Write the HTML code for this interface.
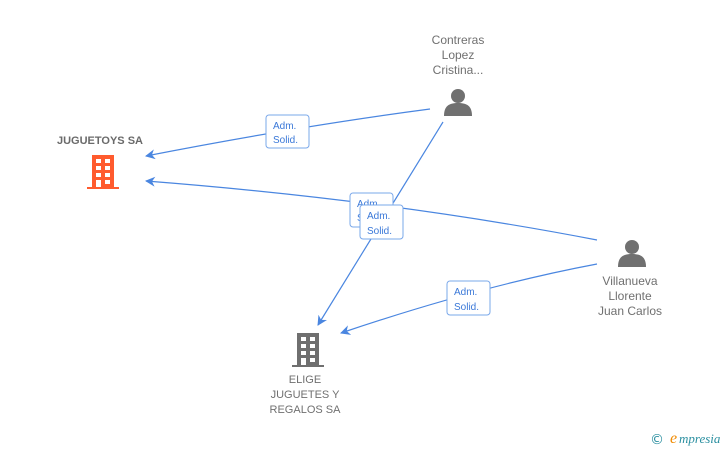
<!DOCTYPE html>
<html><head><meta charset="utf-8"><style>
body{margin:0;width:728px;height:450px;background:#fff;overflow:hidden;font-family:"Liberation Sans",sans-serif;}
.t{position:absolute;font-size:12px;color:#707070;text-align:center;line-height:15px;}
</style></head><body>
<svg width="728" height="450" style="position:absolute;left:0;top:0">
<defs>
<marker id="a" markerWidth="10" markerHeight="10" refX="9" refY="5" orient="auto" markerUnits="userSpaceOnUse">
<path d="M0,0 L10,5 L0,10 L3,5 Z" fill="#4a86e0"/></marker>
<g id="bld"><rect x="5" y="0" width="22" height="32"/><rect x="0" y="32" width="32" height="2"/></g>
<g id="win" fill="#fff"><rect x="9" y="4" width="5" height="4"/><rect x="18" y="4" width="5" height="4"/><rect x="9" y="11" width="5" height="4"/><rect x="18" y="11" width="5" height="4"/><rect x="9" y="18" width="5" height="4"/><rect x="18" y="18" width="5" height="4"/><rect x="9" y="25" width="5" height="7"/><rect x="18" y="25" width="5" height="4"/></g>
<g id="per"><circle cx="14" cy="8" r="7"/><path d="M0,28 C0,18 5,15 14,15 C23,15 28,18 28,28 Z"/></g>
</defs>
<g stroke="#4a86e0" stroke-width="1.2" fill="none">
<path d="M430,109 Q300,126 146,156" marker-end="url(#a)"/>
<path d="M597,240 Q390,200 146,181" marker-end="url(#a)"/>
<path d="M443,122 L318,325" marker-end="url(#a)"/>
<path d="M597,264 Q480,286 341,333" marker-end="url(#a)"/>
</g>
<g transform="translate(87,155)" fill="#ff5b2e"><use href="#bld"/><use href="#win"/></g>
<g transform="translate(292,333)" fill="#6f6f6f"><use href="#bld"/><use href="#win"/></g>
<g transform="translate(444,88)" fill="#707070"><use href="#per"/></g>
<g transform="translate(618,239)" fill="#707070"><use href="#per"/></g>
<g font-family="Liberation Sans,sans-serif" font-size="10" fill="#3a78d8">
<rect x="266" y="115" width="43" height="33" rx="3" fill="#fff" stroke="#7aa8ea"/>
<text x="273" y="129">Adm.</text><text x="273" y="143">Solid.</text>
<rect x="350" y="193" width="43" height="34" rx="3" fill="#fff" stroke="#7aa8ea"/>
<text x="357" y="207">Adm.</text><text x="357" y="221">Solid.</text>
<rect x="360" y="205" width="43" height="34" rx="3" fill="#fff" stroke="#7aa8ea"/>
<text x="367" y="219">Adm.</text><text x="367" y="234">Solid.</text>
<rect x="447" y="281" width="43" height="34" rx="3" fill="#fff" stroke="#7aa8ea"/>
<text x="454" y="295">Adm.</text><text x="454" y="310">Solid.</text>
</g>
<text x="650" y="444" font-size="14" fill="#2a8fa0" font-family="DejaVu Sans,sans-serif">©</text>
<text x="670" y="443" font-size="16" fill="#f08a00" font-style="italic" font-family="Liberation Serif,serif">e</text>
<text x="679" y="443" font-size="13" fill="#2a8fa0" font-style="italic" font-family="Liberation Serif,serif">mpresia</text>
</svg>
<div class="t" style="left:40px;top:134px;width:120px;font-weight:bold;font-size:11px;color:#6a6a6a">JUGUETOYS SA</div>
<div class="t" style="left:400px;top:33px;width:116px">Contreras<br>Lopez<br>Cristina...</div>
<div class="t" style="left:572px;top:274px;width:116px">Villanueva<br>Llorente<br>Juan Carlos</div>
<div class="t" style="left:250px;top:373px;width:110px;font-size:11px">ELIGE<br>JUGUETES Y<br>REGALOS SA</div>
</body></html>
